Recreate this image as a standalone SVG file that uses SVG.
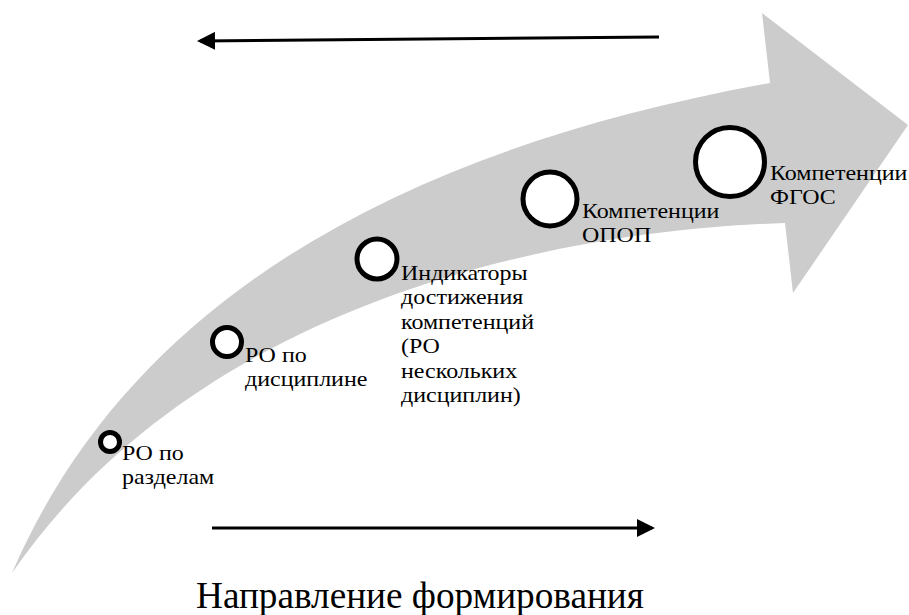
<svg xmlns="http://www.w3.org/2000/svg" width="909" height="615" viewBox="0 0 909 615" xml:lang="ru">
  <style>
    .band { fill: #cccccc; stroke: none; }
    .ring { fill: #ffffff; stroke: #000000; stroke-width: 5; }
    .conn { stroke: #000000; stroke-width: 3; fill: none; }
  </style>
  <defs>
    <marker id="ah" markerWidth="6" markerHeight="6" refX="5" refY="3" orient="auto" markerUnits="strokeWidth">
      <path d="M0,0 L6,3 L0,6 Z" fill="#000000"/>
    </marker>
  </defs>

  <g id="big-arrow">
    <path class="band" d="M12,573 C130,300 400,150 770,83 L762,13 L908,125 L793,293 L785,223 C560,230 200,300 12,573 Z"/>
  </g>

  <g id="connectors">
    <line class="conn" x1="659" y1="37" x2="200" y2="41" marker-end="url(#ah)"/>
    <line class="conn" x1="212" y1="528" x2="652" y2="528" marker-end="url(#ah)"/>
  </g>

  <g id="node-ro-razdelam">
    <circle class="ring" cx="110" cy="442" r="9.5"/>
    <text style="font-family: 'Liberation Serif', 'DejaVu Serif', serif; font-size: 22px" transform="translate(122,0) scale(1.09,1)" x="0" y="460">РО по<tspan x="0" y="484">разделам</tspan></text>
  </g>

  <g id="node-ro-discipline">
    <circle class="ring" cx="227" cy="342" r="14.5"/>
    <text style="font-family: 'Liberation Serif', 'DejaVu Serif', serif; font-size: 22px" transform="translate(245,0) scale(1.09,1)" x="0" y="362">РО по<tspan x="0" y="386">дисциплине</tspan></text>
  </g>

  <g id="node-indicators">
    <circle class="ring" cx="377" cy="259" r="20"/>
    <text style="font-family: 'Liberation Serif', 'DejaVu Serif', serif; font-size: 22px" transform="translate(401,0) scale(1.09,1)" x="0" y="280">Индикаторы<tspan x="0" y="304.5">достижения</tspan><tspan x="0" y="329">компетенций</tspan><tspan x="0" y="353.5">(РО</tspan><tspan x="0" y="378">нескольких</tspan><tspan x="0" y="402.5">дисциплин)</tspan></text>
  </g>

  <g id="node-opop">
    <circle class="ring" cx="550" cy="199" r="27"/>
    <text style="font-family: 'Liberation Serif', 'DejaVu Serif', serif; font-size: 22px" transform="translate(582,0) scale(1.09,1)" x="0" y="218">Компетенции<tspan x="0" y="242">ОПОП</tspan></text>
  </g>

  <g id="node-fgos">
    <circle class="ring" cx="730" cy="162" r="34.5"/>
    <text style="font-family: 'Liberation Serif', 'DejaVu Serif', serif; font-size: 22px" transform="translate(770,0) scale(1.09,1)" x="0" y="180">Компетенции<tspan x="0" y="204">ФГОС</tspan></text>
  </g>

  <g id="caption">
    <text style="font-family: 'Liberation Serif', 'DejaVu Serif', serif; font-size: 38px" transform="translate(196,0) scale(0.98,1)" x="0" y="608">Направление формирования</text>
  </g>
</svg>
